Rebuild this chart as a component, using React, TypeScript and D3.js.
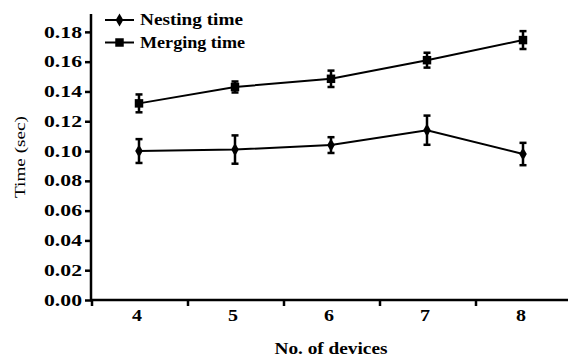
import React, { useEffect, useRef } from "react";
import * as d3 from "d3";

const devices = [4, 5, 6, 7, 8];
const nestingTime = [0.1, 0.101, 0.104, 0.114, 0.098];
const nestingErr = [0.008, 0.0095, 0.0053, 0.0098, 0.0075];
const mergingTime = [0.132, 0.143, 0.1485, 0.161, 0.1745];
const mergingErr = [0.006, 0.0037, 0.0055, 0.005, 0.006];
const yTicks = [0, 0.02, 0.04, 0.06, 0.08, 0.1, 0.12, 0.14, 0.16, 0.18];

const FONT = "Liberation Serif, Times New Roman, serif";

const App = (): JSX.Element => {
  const ref = useRef<SVGSVGElement>(null);

  useEffect(() => {
    const svg = d3.select(ref.current);
    svg.selectAll("*").remove();

    const x = d3
      .scaleBand<number>()
      .domain(devices)
      .range([91, 571])
      .padding(0);
    const y = d3.scaleLinear().domain([0, 0.192]).range([300, 14]);
    const cx = (d: number) => (x(d) as number) + x.bandwidth() / 2;

    // y axis
    const yAxis = svg
      .append("g")
      .attr("transform", "translate(91,0)")
      .call(
        d3
          .axisLeft(y)
          .tickValues(yTicks)
          .tickSize(6)
          .tickPadding(3)
          .tickFormat(d3.format(".2f"))
      );
    yAxis.select(".domain").remove();
    yAxis.selectAll(".tick line").attr("stroke", "#000").attr("stroke-width", 2.5);
    yAxis
      .selectAll(".tick text")
      .attr("font-family", FONT)
      .attr("font-size", 16)
      .attr("font-weight", "bold")
      .attr("fill", "#000")
      .attr("textLength", 38)
      .attr("lengthAdjust", "spacingAndGlyphs");
    svg
      .append("line")
      .attr("x1", 91)
      .attr("x2", 91)
      .attr("y1", 14)
      .attr("y2", 301)
      .attr("stroke", "#000")
      .attr("stroke-width", 2.5);

    // x axis
    const xAxis = svg
      .append("g")
      .attr("transform", "translate(0,300)")
      .call(d3.axisBottom(x).tickSize(0).tickPadding(10));
    xAxis.select(".domain").remove();
    xAxis
      .selectAll(".tick text")
      .attr("font-family", FONT)
      .attr("font-size", 16)
      .attr("font-weight", "bold")
      .attr("fill", "#000")
      .attr("textLength", 10)
      .attr("lengthAdjust", "spacingAndGlyphs")
      .attr("dx", -2);
    svg
      .append("line")
      .attr("x1", 90)
      .attr("x2", 571)
      .attr("y1", 300)
      .attr("y2", 300)
      .attr("stroke", "#000")
      .attr("stroke-width", 2.5);
    const tickXs = devices.map((d) => x(d) as number).concat([571]);
    svg
      .append("g")
      .selectAll("line")
      .data(tickXs)
      .join("line")
      .attr("x1", (d) => d + 1)
      .attr("x2", (d) => d + 1)
      .attr("y1", 300)
      .attr("y2", 306)
      .attr("stroke", "#000")
      .attr("stroke-width", 2.5);

    // axis titles
    svg
      .append("text")
      .attr("x", 331)
      .attr("y", 354)
      .attr("text-anchor", "middle")
      .attr("font-family", FONT)
      .attr("font-size", 17)
      .attr("font-weight", "bold")
      .attr("textLength", 113)
      .attr("lengthAdjust", "spacingAndGlyphs")
      .text("No. of devices");
    svg
      .append("text")
      .attr("transform", "translate(25,157) rotate(-90)")
      .attr("text-anchor", "middle")
      .attr("font-family", FONT)
      .attr("font-size", 14)
      .attr("textLength", 82)
      .attr("lengthAdjust", "spacingAndGlyphs")
      .text("Time (sec)");

    const series = [
      { name: "Nesting time", values: nestingTime, err: nestingErr, shape: d3.symbolDiamond, size: 50 },
      { name: "Merging time", values: mergingTime, err: mergingErr, shape: d3.symbolSquare, size: 72 },
    ];

    series.forEach((s) => {
      const pts = devices.map((d, i) => ({ x: cx(d), v: s.values[i], e: s.err[i] }));
      svg
        .append("path")
        .datum(pts)
        .attr("fill", "none")
        .attr("stroke", "#000")
        .attr("stroke-width", 2)
        .attr(
          "d",
          d3
            .line<{ x: number; v: number }>()
            .x((p) => p.x)
            .y((p) => y(p.v))
        );
      const g = svg.append("g");
      pts.forEach((p) => {
        g.append("line")
          .attr("x1", p.x)
          .attr("x2", p.x)
          .attr("y1", y(p.v + p.e))
          .attr("y2", y(p.v - p.e))
          .attr("stroke", "#000")
          .attr("stroke-width", 2.5);
        [p.v + p.e, p.v - p.e].forEach((v) => {
          g.append("line")
            .attr("x1", p.x - 3.5)
            .attr("x2", p.x + 3.5)
            .attr("y1", y(v))
            .attr("y2", y(v))
            .attr("stroke", "#000")
            .attr("stroke-width", 2.5);
        });
        g.append("path")
          .attr("transform", `translate(${p.x},${y(p.v)})`)
          .attr("d", d3.symbol().type(s.shape).size(s.size)())
          .attr("fill", "#000");
      });
    });

    // legend
    const legend = svg.append("g");
    series.forEach((s, i) => {
      const ly = 20 + i * 22.5;
      legend
        .append("line")
        .attr("x1", 105)
        .attr("x2", 134)
        .attr("y1", ly)
        .attr("y2", ly)
        .attr("stroke", "#000")
        .attr("stroke-width", 2);
      legend
        .append("path")
        .attr("transform", `translate(119.5,${ly})`)
        .attr("d", d3.symbol().type(s.shape).size(s.size)())
        .attr("fill", "#000");
      legend
        .append("text")
        .attr("x", 140)
        .attr("y", ly + 5)
        .attr("font-family", FONT)
        .attr("font-size", 16)
        .attr("font-weight", "bold")
        .attr("textLength", i === 0 ? 103 : 105)
        .attr("lengthAdjust", "spacingAndGlyphs")
        .text(s.name);
    });
  }, []);

  return (
    <svg
      ref={ref}
      width={568}
      height={358}
      style={{ position: "absolute", left: 0, top: 0, background: "#fff" }}
    />
  );
};

export default App;
